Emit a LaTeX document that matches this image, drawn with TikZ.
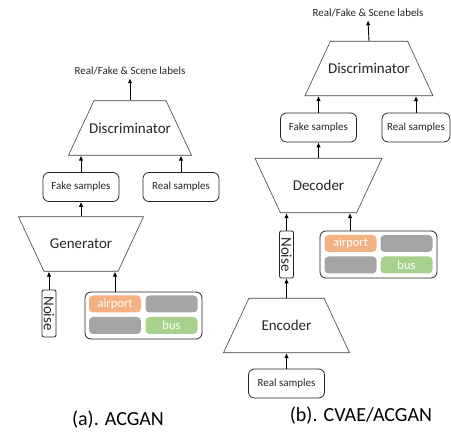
\documentclass[tikz,border=0pt]{standalone}
\usepackage{fontspec}
\setmainfont{Carlito}
\usetikzlibrary{shapes.geometric,arrows.meta}
\definecolor{airportc}{HTML}{F4B183}
\definecolor{emptyc}{HTML}{A5A5A5}
\definecolor{busc}{HTML}{A9D18E}

\begin{document}
\begin{tikzpicture}[x=1pt,y=1pt]
          \tikzstyle{every node}+=[inner sep=0pt, text=black!85]
          \tikzstyle{net}=[draw=black!75, line width=0.6pt, trapezium, trapezium left angle=65, trapezium right angle=65, trapezium stretches body, minimum width=125pt]
          \tikzstyle{netname}=[font=\fontsize{15}{18}\selectfont]
          \tikzstyle{sample}=[draw=black!85, line width=0.8pt, rounded corners=6pt, minimum width=76pt, minimum height=29pt, font=\fontsize{11}{13}\selectfont]
          \tikzstyle{noise}=[draw=black!85, line width=0.8pt, rounded corners=2pt, rotate=-90, minimum width=47pt, minimum height=14pt, font=\fontsize{15}{18}\selectfont]
          \tikzstyle{panel}=[draw=black!85, line width=0.8pt, rounded corners=6pt, minimum width=117pt, minimum height=47pt]
          \tikzstyle{chip}=[rounded corners=4pt, minimum width=52pt, minimum height=17pt, text=white, font=\fontsize{12.5}{14}\selectfont]
          \tikzstyle{toplabel}=[inner sep=3pt, font=\fontsize{11}{13}\selectfont]
          \tikzstyle{caption}=[text=black, font=\fontsize{20}{24}\selectfont]
          \tikzstyle{arr}=[-{Latex[length=5pt,width=4.5pt]}, line width=0.9pt]
          \newcommand{\netbody}{\rule{0pt}{54.5pt}}
          \useasboundingbox (0,0) rectangle (451,-438);
          % (a) ACGAN
          \node[toplabel] (lbA) at (130,-71) {Real/Fake \& Scene labels};
          \node[net, minimum width=123pt, label={[netname]center:Discriminator}] (discA) at (130,-128) {\netbody};
          \node[sample] (fakeA) at (81,-187) {Fake samples};
          \node[sample] (realA) at (181,-187) {Real samples};
          \node[net, shape border rotate=180, label={[netname]center:Generator}] (genA) at (81,-244) {\netbody};
          \node[noise] (noiseA) at (49,-313.5) {Noise};
          \node[panel] (labA) at (143.5,-315.5) {};
          \node[chip, fill=airportc] (airA) at (115,-304) {airport};
          \node[chip, fill=emptyc] (emA1) at (171.5,-304) {};
          \node[chip, fill=emptyc] (emA2) at (115,-325.5) {};
          \node[chip, fill=busc] (busA) at (171.5,-325.5) {bus};
          \draw[arr] (discA.north) -- (lbA.south);
          \draw[arr] (fakeA.north) -- (fakeA.north |- discA.south);
          \draw[arr] (realA.north) -- (realA.north |- discA.south);
          \draw[arr] (genA.north) -- (fakeA.south);
          \draw[arr] (noiseA.west) -- (noiseA.west |- genA.south);
          \draw[arr] ([xshift=-28.5pt]labA.north) -- ([xshift=-28.5pt]labA.north |- genA.south);
          \node[caption] (capA) at (118,-420) {(a). ACGAN};
          % (b) CVAE/ACGAN
          \node[toplabel] (lbB) at (368,-13) {Real/Fake \& Scene labels};
          \node[net, minimum width=128pt, label={[netname]center:Discriminator}] (discB) at (369,-68.5) {\netbody};
          \node[sample] (fakeB) at (318.5,-127.5) {Fake samples};
          \node[sample, minimum width=68pt] (realB) at (416,-127.5) {Real samples};
          \node[net, shape border rotate=180, minimum width=127pt, label={[netname]center:Decoder}] (decB) at (318.5,-185.5) {\netbody};
          \node[noise] (noiseB) at (286.5,-254.5) {Noise};
          \node[panel] (labB) at (378.5,-254.5) {};
          \node[chip, fill=airportc] (airB) at (350.5,-243.5) {airport};
          \node[chip, fill=emptyc] (emB1) at (406.5,-243.5) {};
          \node[chip, fill=emptyc] (emB2) at (350.5,-265) {};
          \node[chip, fill=busc] (busB) at (406.5,-265) {bus};
          \node[net, minimum width=126pt, label={[netname]center:Encoder}] (encB) at (286.5,-325.5) {\netbody};
          \node[sample] (realC) at (286.5,-383.5) {Real samples};
          \draw[arr] (discB.north) -- (lbB.south);
          \draw[arr] (fakeB.north) -- (fakeB.north |- discB.south);
          \draw[arr] (realB.north) -- (realB.north |- discB.south);
          \draw[arr] (decB.north) -- (fakeB.south);
          \draw[arr] (noiseB.west) -- (noiseB.west |- decB.south);
          \draw[arr] ([xshift=-28.5pt]labB.north) -- ([xshift=-28.5pt]labB.north |- decB.south);
          \draw[arr] (encB.north) -- (noiseB.east);
          \draw[arr] (realC.north) -- (encB.south);
          \node[caption] (capB) at (361,-416) {(b). CVAE/ACGAN};
\end{tikzpicture}
\end{document}
